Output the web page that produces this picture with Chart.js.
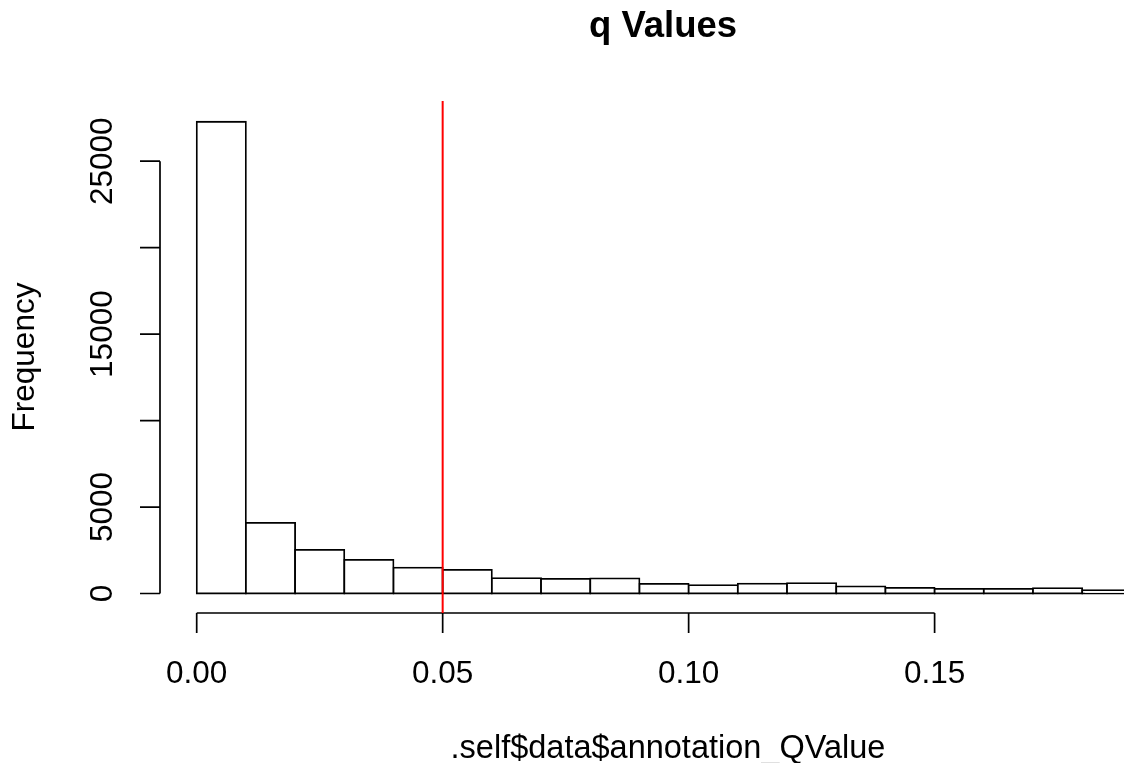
<!DOCTYPE html>
<html>
<head>
<meta charset="utf-8">
<title>q Values</title>
<script src="https://cdn.jsdelivr.net/npm/chart.js@4.4.1/dist/chart.umd.min.js"></script>
<style>
  html, body { margin: 0; padding: 0; background: #fff; }
  #wrap { width: 1124px; height: 763px; }
</style>
</head>
<body>
<div id="wrap"><canvas id="qHist" width="1124" height="763"></canvas></div>
<script>
/* Histogram bins (left edges) and counts */
const binWidth = 0.01;
const binStarts = [0, 0.01, 0.02, 0.03, 0.04, 0.05, 0.06, 0.07, 0.08, 0.09,
                   0.10, 0.11, 0.12, 0.13, 0.14, 0.15, 0.16, 0.17, 0.18];
const counts = [27280, 4080, 2520, 1940, 1500, 1370, 890, 840, 880, 560,
                485, 575, 600, 415, 325, 270, 270, 310, 195];

/* q-value cutoff marker */
const cutoff = 0.05;

/* Axis ticks */
const xTicks = [0, 0.05, 0.10, 0.15];
const xTickLabels = ["0.00", "0.05", "0.10", "0.15"];
const yTicks = [0, 5000, 10000, 15000, 20000, 25000];
const yTickLabels = ["0", "5000", "", "15000", "", "25000"];

const mainTitle = "q Values";
const xTitle = ".self$data$annotation_QValue";
const yTitle = "Frequency";

const FONT = '"Liberation Sans", Arial, Helvetica, sans-serif';

/* base-graphics style axes: line only between first and last tick */
const rAxes = {
  id: "rAxes",
  afterDraw(chart) {
    const { ctx, chartArea: area, scales: { x, y } } = chart;
    ctx.save();
    ctx.strokeStyle = "#000";
    ctx.fillStyle = "#000";
    ctx.lineWidth = 1.7;

    // x axis
    const yb = area.bottom;
    ctx.beginPath();
    ctx.moveTo(x.getPixelForValue(xTicks[0]), yb);
    ctx.lineTo(x.getPixelForValue(xTicks[xTicks.length - 1]), yb);
    xTicks.forEach((v) => {
      const px = x.getPixelForValue(v);
      ctx.moveTo(px, yb);
      ctx.lineTo(px, yb + 20);
    });
    ctx.stroke();

    ctx.font = "31.5px " + FONT;
    ctx.textAlign = "center";
    ctx.textBaseline = "alphabetic";
    xTicks.forEach((v, i) => {
      ctx.fillText(xTickLabels[i], x.getPixelForValue(v), yb + 70);
    });

    // y axis
    const xl = area.left;
    ctx.beginPath();
    ctx.moveTo(xl, y.getPixelForValue(yTicks[0]));
    ctx.lineTo(xl, y.getPixelForValue(yTicks[yTicks.length - 1]));
    yTicks.forEach((v) => {
      const py = y.getPixelForValue(v);
      ctx.moveTo(xl, py);
      ctx.lineTo(xl - 20, py);
    });
    ctx.stroke();

    yTicks.forEach((v, i) => {
      if (!yTickLabels[i]) return;
      ctx.save();
      ctx.translate(xl - 48, y.getPixelForValue(v));
      ctx.rotate(-Math.PI / 2);
      ctx.fillText(yTickLabels[i], 0, 0);
      ctx.restore();
    });

    // axis titles
    ctx.font = "32.5px " + FONT;
    ctx.fillText(xTitle, 668, 758);
    ctx.font = "31.5px " + FONT;
    ctx.save();
    ctx.translate(34, (area.top + area.bottom) / 2);
    ctx.rotate(-Math.PI / 2);
    ctx.fillText(yTitle, 0, 0);
    ctx.restore();

    // main title
    ctx.font = "bold 36.5px " + FONT;
    ctx.fillText(mainTitle, 663, 37);

    // cutoff line
    const cx = x.getPixelForValue(cutoff);
    ctx.strokeStyle = "#ff0000";
    ctx.lineWidth = 2;
    ctx.beginPath();
    ctx.moveTo(cx, area.top);
    ctx.lineTo(cx, area.bottom);
    ctx.stroke();

    ctx.restore();
  },
};

const barLine = 1.8;

const histChart = new Chart(document.getElementById("qHist"), {
  type: "bar",
  data: {
    datasets: [
      {
        data: binStarts.map((b, i) => ({ x: b + binWidth / 2, y: counts[i] })),
        backgroundColor: "#ffffff",
        borderColor: "#000000",
        borderWidth: barLine,
        borderSkipped: false,
        inflateAmount: barLine / 2,
        barPercentage: 1,
        categoryPercentage: 1,
      },
    ],
  },
  plugins: [rAxes],
  options: {
    responsive: false,
    animation: false,
    devicePixelRatio: 1,
    layout: {
      padding: { left: 160, top: 101, right: 0, bottom: 150 },
    },
    scales: {
      x: {
        type: "linear",
        display: false,
        offset: false,
        min: -0.00746,
        max: 0.1885,
      },
      y: {
        type: "linear",
        display: false,
        min: -1128,
        max: 28481,
      },
    },
    plugins: {
      legend: { display: false },
      tooltip: { enabled: false },
      title: { display: false },
    },
  },
});
</script>
</body>
</html>
